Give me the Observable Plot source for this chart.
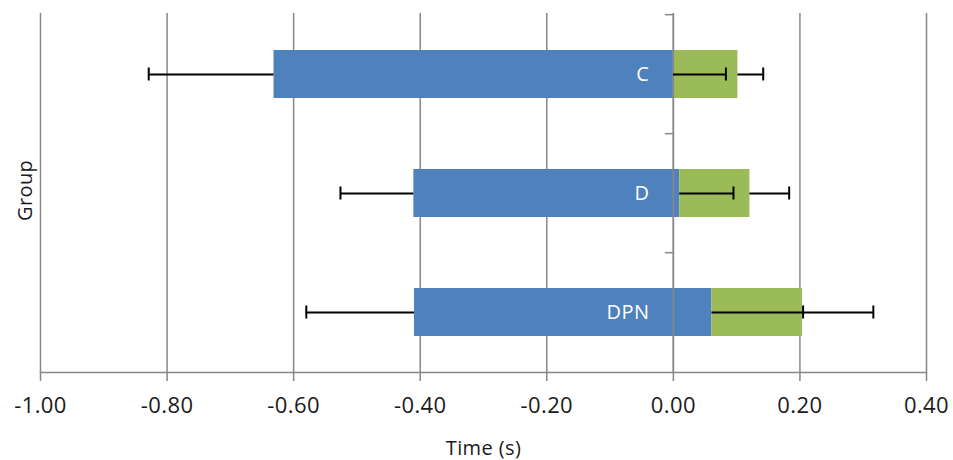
<!DOCTYPE html>
<html>
<head>
<meta charset="utf-8">
<script src="https://cdn.jsdelivr.net/npm/d3@7"></script>
<script src="https://cdn.jsdelivr.net/npm/@observablehq/plot@0.6"></script>
<style>
  html, body { margin: 0; padding: 0; background: #fff; }
  #chart { width: 953px; height: 460px; }
  #chart svg text { letter-spacing: 0.4px; }
</style>
</head>
<body>
<div id="chart"></div>
<script>
// ---- data ----
const groups     = ["C", "D", "DPN"];
const blueStart  = [-0.631, -0.410, -0.409];
const blueEnd    = [0.000, 0.010, 0.061];
const greenEnd   = [0.102, 0.121, 0.204];
const errLow     = [-0.829, -0.526, -0.580];
const errMid     = [0.083, 0.095, 0.205];
const errHigh    = [0.142, 0.183, 0.316];
const xTicks     = [-1.0, -0.8, -0.6, -0.4, -0.2, 0.0, 0.2, 0.4];

const rows = groups.map((g, i) => ({
  group: g, start: blueStart[i], bEnd: blueEnd[i], gEnd: greenEnd[i],
  lo: errLow[i], mid: errMid[i], hi: errHigh[i]
}));

const BLUE = "#4F81BD", GREEN = "#9BBB59", GRID = "#878787", INK = "#1a1a1a";
const FONT = "'Open Sans', sans-serif";
const step = (372 - 13) / 3;

const chart = Plot.plot({
  width: 953,
  height: 460,
  marginLeft: 40,
  marginRight: 27,
  marginTop: 13,
  marginBottom: 88,
  style: { fontFamily: FONT, fontSize: "22px", color: INK, background: "#fff" },
  x: { domain: [-1.0, 0.4], ticks: xTicks, tickFormat: d => d.toFixed(2), label: null },
  y: { domain: groups, paddingInner: 0.6, paddingOuter: 0.3, axis: null },
  marks: [
    Plot.ruleX(xTicks, { stroke: GRID, strokeWidth: 1.5 }),
    Plot.frame({ anchor: "bottom", stroke: GRID, strokeWidth: 1.5 }),
    Plot.axisX({ ticks: xTicks, tickFormat: d => d.toFixed(2), tickSize: 9, tickPadding: 16,
                 stroke: GRID, strokeWidth: 1.5, label: null, fontSize: 22 }),
    // category tick marks on the zero axis
    Plot.ruleY(groups, { y: d => d, x1: 0, x2: 0, insetLeft: -8, dy: -step / 2, stroke: GRID, strokeWidth: 1.5 }),
    Plot.barX(rows, { y: "group", x1: "start", x2: "bEnd", fill: BLUE }),
    Plot.barX(rows, { y: "group", x1: "bEnd", x2: "gEnd", fill: GREEN }),
    Plot.ruleX([0], { stroke: GRID, strokeWidth: 1.5 }),
    // error bars
    Plot.ruleY(rows, { y: "group", x1: "start", x2: "lo", stroke: "#000", strokeWidth: 2 }),
    Plot.tickX(rows, { y: "group", x: "lo", stroke: "#000", strokeWidth: 2, insetTop: 17.5, insetBottom: 17.5 }),
    Plot.ruleY(rows, { y: "group", x1: "bEnd", x2: "mid", stroke: "#000", strokeWidth: 2 }),
    Plot.tickX(rows, { y: "group", x: "mid", stroke: "#000", strokeWidth: 2, insetTop: 17.5, insetBottom: 17.5 }),
    Plot.ruleY(rows, { y: "group", x1: "gEnd", x2: "hi", stroke: "#000", strokeWidth: 2 }),
    Plot.tickX(rows, { y: "group", x: "hi", stroke: "#000", strokeWidth: 2, insetTop: 17.5, insetBottom: 17.5 }),
    // group labels inside bars
    Plot.text(rows, { y: "group", x: 0, text: "group", textAnchor: "end", dx: -24, fill: "#fff", fontSize: 20 }),
    // axis titles
    Plot.text(["Group"], { frameAnchor: "left", rotate: -90, dx: -15, dy: 28, fill: INK, fontSize: 20 }),
    Plot.text(["Time (s)"], { frameAnchor: "bottom", dy: 82, fill: INK, fontSize: 20 })
  ]
});

document.getElementById("chart").appendChild(chart);
</script>
</body>
</html>
